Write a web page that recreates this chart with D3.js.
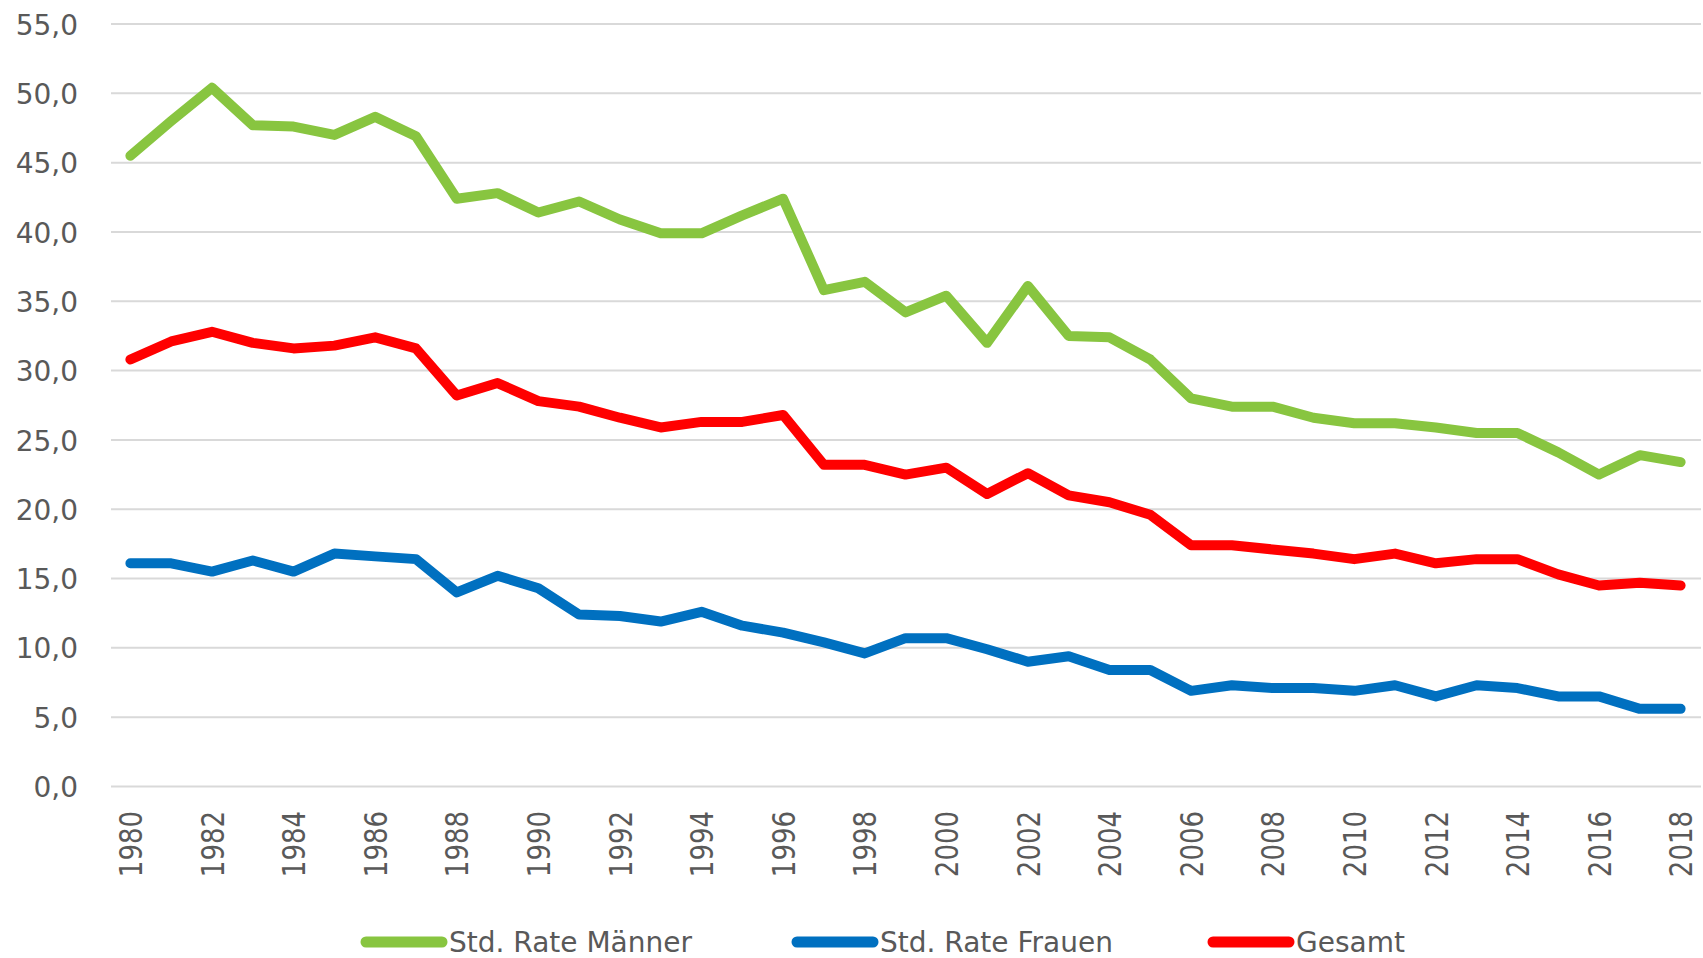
<!DOCTYPE html>
<html><head><meta charset="utf-8">
<script src="https://cdn.jsdelivr.net/npm/d3@7/dist/d3.min.js"></script>
<style>body{margin:0;background:#fff}</style>
</head><body>
<svg id="chart" width="1703" height="958"></svg>
<script>
const years = [1980,1981,1982,1983,1984,1985,1986,1987,1988,1989,1990,1991,1992,1993,1994,1995,1996,1997,1998,1999,2000,2001,2002,2003,2004,2005,2006,2007,2008,2009,2010,2011,2012,2013,2014,2015,2016,2017,2018];
const maenner = [45.5,48.0,50.4,47.7,47.6,47.0,48.3,46.9,42.4,42.8,41.4,42.2,40.9,39.9,39.9,41.2,42.4,35.8,36.4,34.2,35.4,32.0,36.1,32.5,32.4,30.8,28.0,27.4,27.4,26.6,26.2,26.2,25.9,25.5,25.5,24.1,22.5,23.9,23.4];
const frauen = [16.1,16.1,15.5,16.3,15.5,16.8,16.6,16.4,14.0,15.2,14.3,12.4,12.3,11.9,12.6,11.6,11.1,10.4,9.6,10.7,10.7,9.9,9.0,9.4,8.4,8.4,6.9,7.3,7.1,7.1,6.9,7.3,6.5,7.3,7.1,6.5,6.5,5.6,5.6];
const gesamt = [30.8,32.1,32.8,32.0,31.6,31.8,32.4,31.6,28.2,29.1,27.8,27.4,26.6,25.9,26.3,26.3,26.8,23.2,23.2,22.5,23.0,21.1,22.6,21.0,20.5,19.6,17.4,17.4,17.1,16.8,16.4,16.8,16.1,16.4,16.4,15.3,14.5,14.7,14.5];
const yTicks = [0,5,10,15,20,25,30,35,40,45,50,55];
const xTickLabels = [1980,1982,1984,1986,1988,1990,1992,1994,1996,1998,2000,2002,2004,2006,2008,2010,2012,2014,2016,2018];
const seriesNames = ["Std. Rate Männer","Std. Rate Frauen","Gesamt"];

const seriesColors = ["#88C540","#0070C0","#FF0000"];
const series = [maenner, frauen, gesamt].map((vals,i)=>({name:seriesNames[i], color:seriesColors[i], values:vals}));

const svg = d3.select("#chart");
const FONT = "'DejaVu Sans', sans-serif";
const TXT = "#595959";

const x = d3.scalePoint().domain(years).range([110, 1701]).padding(0.5);
const y = d3.scaleLinear().domain([0,55]).range([786.5, 24]);
const loc = d3.formatLocale({decimal:",", thousands:".", grouping:[3], currency:["","€"]});
const fmt = loc.format(".1f");

// gridlines
svg.append("g").selectAll("line").data(yTicks).join("line")
  .attr("x1",111).attr("x2",1701)
  .attr("y1",d=>y(d)).attr("y2",d=>y(d))
  .attr("stroke","#D9D9D9").attr("stroke-width",2);

// y axis labels
const yAxis = d3.axisLeft(y).tickValues(yTicks).tickFormat(fmt).tickSize(0).tickPadding(0);
const gy = svg.append("g").attr("transform","translate(78,0)").call(yAxis);
gy.select(".domain").remove();
gy.selectAll("text").attr("font-family",FONT).attr("font-size",28).attr("fill",TXT).attr("dy","0.36em");

// x axis labels
const xAxis = d3.axisBottom(x).tickValues(xTickLabels).tickSize(0).tickPadding(0);
const gx = svg.append("g").attr("transform","translate(0,811)").call(xAxis);
gx.select(".domain").remove();
gx.selectAll("text")
  .attr("font-family",FONT).attr("font-size",26).attr("fill",TXT)
  .attr("text-anchor","end").attr("transform","rotate(-90) scale(1,1.2)")
  .attr("x",0).attr("y",0).attr("dy","0.36em");

// lines
const line = d3.line().x((d,i)=>x(years[i])).y(d=>y(d));
svg.append("g").selectAll("path").data(series).join("path")
  .attr("d",d=>line(d.values))
  .attr("fill","none").attr("stroke",d=>d.color)
  .attr("stroke-width",10).attr("stroke-linejoin","round").attr("stroke-linecap","round");

// legend
const legendStarts = [362, 793, 1209];
const lg = svg.append("g");
series.forEach((s,i)=>{
  const g = lg.append("g").attr("transform",`translate(${legendStarts[i]},942)`);
  g.append("line").attr("x1",4).attr("x2",80).attr("y1",0).attr("y2",0)
    .attr("stroke",s.color).attr("stroke-width",11).attr("stroke-linecap","round");
  g.append("text").attr("x",87).attr("y",0).attr("dy","0.36em")
    .attr("font-family",FONT).attr("font-size",28).attr("fill",TXT).text(s.name);
});
</script>
</body></html>
